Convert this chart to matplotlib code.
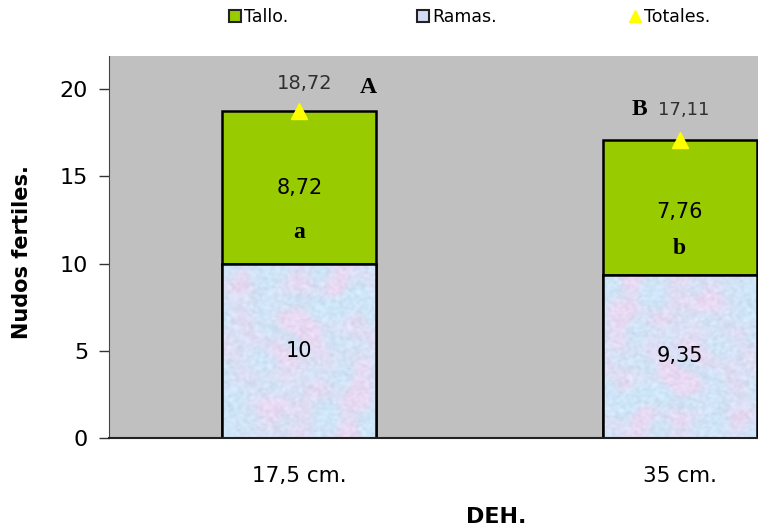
import numpy as np
import matplotlib
matplotlib.use("Agg")
import matplotlib.pyplot as plt
from matplotlib.lines import Line2D
from matplotlib.patches import Patch

categories = ["17,5 cm.", "35 cm."]
ramas = [10, 9.35]
tallo = [8.72, 7.76]
totales = [18.72, 17.11]
ramas_labels = ["10", "9,35"]
tallo_labels = ["8,72", "7,76"]
totales_labels = ["18,72", "17,11"]
tallo_letters = ["a", "b"]
totales_letters = ["A", "B"]

plt.rcParams['font.family'] = ['DejaVu Sans']

fig = plt.figure(figsize=(7.58, 5.28), dpi=100)
# plot area runs past the right edge of the figure
ax = fig.add_axes([109 / 758, 1 - 438 / 528, (870 - 109) / 758, (438 - 56) / 528])
ax.set_facecolor("#c0c0c0")

x = np.arange(len(categories))
width = 0.405
green = "#99cc00"

bars_r = ax.bar(x, ramas, width, color="#d0e2f6", edgecolor="black", linewidth=1.8, zorder=2)
bars_t = ax.bar(x, tallo, width, bottom=ramas, color=green, edgecolor="black", linewidth=1.8, zorder=2)


def smooth(a, n):
    # box blur with wrap-around edges
    k = np.ones(n) / n
    p = n // 2
    a = np.pad(a, p, mode="wrap")
    a = np.apply_along_axis(lambda r: np.convolve(r, k, mode="same"), 0, a)
    a = np.apply_along_axis(lambda r: np.convolve(r, k, mode="same"), 1, a)
    return a[p:-p, p:-p]


# mottled blue / pink texture for the branch bars
rng = np.random.default_rng(7)
big = smooth(smooth(rng.random((150, 120)), 17), 11)
big = np.clip((big - np.percentile(big, 5)) / (np.percentile(big, 95) - np.percentile(big, 5)), 0, 1)
grain = smooth(rng.random((150, 120)), 3)
grain = (grain - grain.mean()) / (grain.std() + 1e-9)
c1 = np.array([0.81, 0.90, 0.97])
c2 = np.array([0.91, 0.85, 0.95])
w = big ** 1.4
tex = c1[None, None, :] * (1 - w[..., None]) + c2[None, None, :] * w[..., None]
tex = np.clip(tex - 0.015 * grain[..., None], 0, 1)
for i, b in enumerate(bars_r):
    t = tex if i == 0 else tex[::-1, ::-1]
    im = ax.imshow(t, extent=[b.get_x(), b.get_x() + b.get_width(), 0, b.get_height()],
                   aspect="auto", zorder=2.1, interpolation="bilinear")
    im.set_clip_path(b)
    ax.add_patch(plt.Rectangle((b.get_x(), 0), b.get_width(), b.get_height(), fill=False,
                               edgecolor="black", linewidth=1.8, zorder=2.2))

ax.plot(x, totales, linestyle="none", marker="^", markersize=11, color="#ffff00", zorder=4)

tallo_pos = [0.50, 0.465]
for i in range(len(x)):
    ax.text(x[i], ramas[i] / 2, ramas_labels[i], ha="center", va="center", fontsize=15, zorder=5)
    ax.text(x[i], ramas[i] + tallo[i] * tallo_pos[i], tallo_labels[i], ha="center", va="center",
            fontsize=15, zorder=5)
ax.text(x[0], 11.8, tallo_letters[0], ha="center", va="center", fontsize=17, fontweight="bold",
        family="Liberation Serif", zorder=5)
ax.text(x[1], 10.85, tallo_letters[1], ha="center", va="center", fontsize=17, fontweight="bold",
        family="Liberation Serif", zorder=5)

ax.text(x[0] + 0.015, totales[0] + 1.6, totales_labels[0], ha="center", va="center", fontsize=14,
        color="#303030")
ax.text(x[0] + 0.16, totales[0] + 1.4, totales_letters[0], ha="left", va="center", fontsize=17,
        fontweight="bold", family="Liberation Serif")
ax.text(x[1] + 0.01, totales[1] + 1.7, totales_labels[1], ha="center", va="center", fontsize=13,
        color="#303030")
ax.text(x[1] - 0.105, totales[1] + 1.7, totales_letters[1], ha="center", va="center", fontsize=17,
        fontweight="bold", family="Liberation Serif")

ax.set_xlim(-0.5, 1.5)
ax.set_ylim(0, 21.9)
ax.set_yticks([0, 5, 10, 15, 20])
ax.set_xticks(x)
ax.set_xticklabels(categories, fontsize=15.5)
ax.tick_params(axis="y", labelsize=16, length=7, width=1, color="#333333", pad=8)
ax.tick_params(axis="x", length=0, pad=20)
for s in ["top", "right"]:
    ax.spines[s].set_visible(False)
ax.spines["left"].set_color("#444444")
ax.spines["bottom"].set_color("#222222")
ax.spines["bottom"].set_linewidth(1.5)

fig.text(22 / 758, 1 - 252 / 528, "Nudos fertiles.", rotation=90, ha="center", va="center",
         fontsize=15, fontweight="bold")
fig.text(496 / 758, 1 - 517 / 528, "DEH.", ha="center", va="center", fontsize=16, fontweight="bold")

handles = [
    Patch(facecolor=green, edgecolor="#222222", linewidth=1.5),
    Patch(facecolor="#d4dcf5", edgecolor="#222222", linewidth=1.5),
    Line2D([], [], linestyle="none", marker="^", markersize=9, color="#ffff00"),
]
names = ["Tallo.", "Ramas.", "Totales."]
xs = [220, 408, 620]
for h, n, xp in zip(handles, names, xs):
    fig.legend([h], [n], loc="center left", bbox_to_anchor=(xp / 758, 1 - 17 / 528), frameon=False,
               fontsize=12.5, handlelength=0.7, handleheight=0.7, handletextpad=0.2, borderpad=0)

fig.savefig("out.png", dpi=100)
